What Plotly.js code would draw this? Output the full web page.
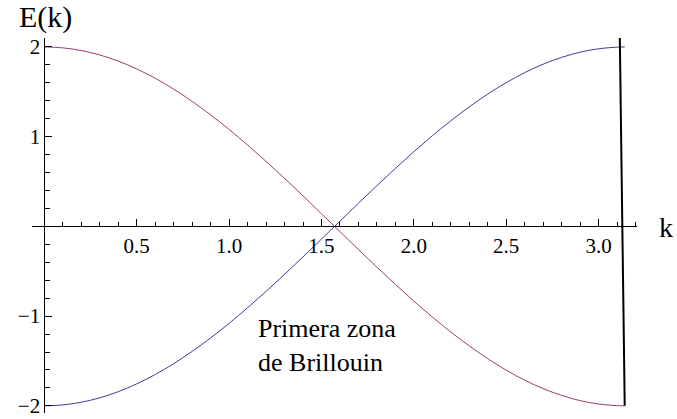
<!DOCTYPE html>
<html>
<head>
<meta charset="utf-8">
<script src="https://cdn.plot.ly/plotly-3.0.1.min.js"></script>
<style>
  html, body { margin: 0; padding: 0; background: #fff; }
  #chart { width: 677px; height: 419px; }
</style>
</head>
<body>
<div id="chart"></div>
<script>
// Wave number samples over the first Brillouin zone (0 .. pi)
const kValues = [0, 0.1, 0.2, 0.3, 0.4, 0.5, 0.6, 0.7, 0.8, 0.9, 1.0, 1.1, 1.2, 1.3, 1.4, 1.5,
                 1.6, 1.7, 1.8, 1.9, 2.0, 2.1, 2.2, 2.3, 2.4, 2.5, 2.6, 2.7, 2.8, 2.9, 3.0, 3.1, 3.1416];

// Upper band, falling from 2 to -2
const bandDown = [2.000, 1.990, 1.960, 1.911, 1.842, 1.755, 1.651, 1.530, 1.393, 1.243, 1.081,
                  0.907, 0.725, 0.535, 0.340, 0.141, -0.058, -0.258, -0.454, -0.646, -0.832,
                  -1.010, -1.177, -1.332, -1.475, -1.602, -1.714, -1.808, -1.884, -1.942, -1.980,
                  -1.998, -2.000];

// Lower band, rising from -2 to 2
const bandUp = [-2.000, -1.990, -1.960, -1.911, -1.842, -1.755, -1.651, -1.530, -1.393, -1.243, -1.081,
                -0.907, -0.725, -0.535, -0.340, -0.141, 0.058, 0.258, 0.454, 0.646, 0.832,
                1.010, 1.177, 1.332, 1.475, 1.602, 1.714, 1.808, 1.884, 1.942, 1.980,
                1.998, 2.000];

// Zone edge marker at k = pi
const edgeK = [3.115, 3.1416];
const edgeE = [2.10, -2.0];

// Tick labels
const xTickVals = [0.5, 1.0, 1.5, 2.0, 2.5, 3.0];
const xTickText = ["0.5", "1.0", "1.5", "2.0", "2.5", "3.0"];
const yTickVals = [-2, -1, 1, 2];
const yTickText = ["\u22122", "\u22121", "1", "2"];

const serif = 'Liberation Serif, Times New Roman, Times, serif';

const xRange = [-0.067, 3.208];
const yRange = [-2.08, 2.10];

function steps(lo, hi, step) {
  const out = [];
  for (let v = lo; v <= hi + 1e-9; v += step) out.push(Math.round(v * 1000) / 1000);
  return out;
}

const traces = [
  { x: kValues, y: bandUp, mode: 'lines', line: { color: '#3d3d99', width: 1, shape: 'spline' }, hoverinfo: 'skip' },
  { x: kValues, y: bandDown, mode: 'lines', line: { color: '#993d71', width: 1, shape: 'spline' }, hoverinfo: 'skip' },
  { x: edgeK, y: edgeE, mode: 'lines', line: { color: '#000000', width: 2 }, hoverinfo: 'skip' }
];

const layout = {
  width: 677,
  height: 419,
  margin: { l: 32, r: 40, t: 38, b: 6, pad: 0 },
  paper_bgcolor: '#ffffff',
  plot_bgcolor: '#ffffff',
  showlegend: false,
  font: { family: serif, size: 21, color: '#000000' },
  xaxis: {
    range: xRange,
    anchor: 'free',
    position: (0 - yRange[0]) / (yRange[1] - yRange[0]),
    showgrid: false,
    zeroline: false,
    showline: true,
    linecolor: '#000000',
    linewidth: 1,
    ticks: 'inside',
    ticklen: 7,
    tickwidth: 1,
    tickcolor: '#000000',
    tickmode: 'array',
    tickvals: xTickVals,
    ticktext: xTickText,
    tickfont: { family: serif, size: 21, color: '#000000' },
    minor: { tickmode: 'array', tickvals: steps(0.1, 3.2, 0.1), ticks: 'inside', ticklen: 4, tickwidth: 1, tickcolor: '#000000', showgrid: false },
    fixedrange: true
  },
  yaxis: {
    range: yRange,
    anchor: 'free',
    position: (0 - xRange[0]) / (xRange[1] - xRange[0]),
    showgrid: false,
    zeroline: false,
    showline: true,
    linecolor: '#000000',
    linewidth: 1,
    ticks: 'inside',
    ticklen: 7,
    tickwidth: 1,
    tickcolor: '#000000',
    tickmode: 'array',
    tickvals: yTickVals,
    ticktext: yTickText,
    tickfont: { family: serif, size: 21, color: '#000000' },
    minor: { tickmode: 'array', tickvals: steps(-2, 2, 0.2), ticks: 'inside', ticklen: 4.5, tickwidth: 1, tickcolor: '#000000', showgrid: false },
    fixedrange: true
  },
  annotations: [
    { text: 'E(k)', xref: 'paper', yref: 'paper', x: -0.0248, y: 1.056, xanchor: 'left', yanchor: 'middle',
      showarrow: false, font: { family: serif, size: 30, color: '#000000' } },
    { text: 'k', xref: 'paper', yref: 'paper', x: 1.033, y: 0.496, xanchor: 'left', yanchor: 'middle',
      showarrow: false, font: { family: serif, size: 28, color: '#000000' } },
    { text: 'Primera zona<br>de Brillouin', xref: 'x', yref: 'y', x: 1.146, y: -1.33, xanchor: 'left', yanchor: 'middle',
      align: 'left', showarrow: false, font: { family: serif, size: 26, color: '#000000' } }
  ]
};

Plotly.newPlot('chart', traces, layout, { staticPlot: true, displayModeBar: false });
</script>
</body>
</html>
